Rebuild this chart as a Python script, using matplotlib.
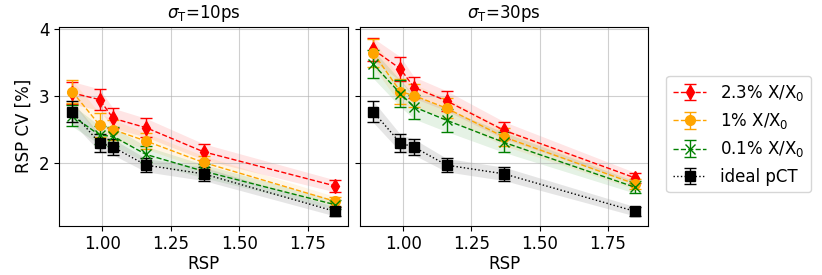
import matplotlib
matplotlib.use('Agg')
import matplotlib.pyplot as plt
import numpy as np

plt.rcParams['font.size'] = 12

RSP = [0.89, 0.99, 1.04, 1.16, 1.37, 1.85]

# sigma_T = 10 ps
CV_10 = {
    '2.3': [3.05, 2.95, 2.67, 2.53, 2.17, 1.66],
    '1': [3.07, 2.57, 2.50, 2.33, 2.01, 1.43],
    '0.1': [2.71, 2.42, 2.40, 2.13, 1.88, 1.38],
}
ERR_10 = {
    '2.3': [0.17, 0.16, 0.15, 0.14, 0.12, 0.09],
    '1': [0.17, 0.18, 0.15, 0.12, 0.10, 0.07],
    '0.1': [0.16, 0.14, 0.14, 0.12, 0.10, 0.07],
}
# sigma_T = 30 ps
CV_30 = {
    '2.3': [3.70, 3.41, 3.13, 2.93, 2.49, 1.78],
    '1': [3.65, 3.07, 3.01, 2.82, 2.39, 1.69],
    '0.1': [3.48, 3.04, 2.84, 2.64, 2.31, 1.64],
}
ERR_30 = {
    '2.3': [0.17, 0.18, 0.16, 0.15, 0.13, 0.08],
    '1': [0.21, 0.19, 0.17, 0.15, 0.13, 0.08],
    '0.1': [0.21, 0.20, 0.18, 0.17, 0.15, 0.09],
}
CV_IDEAL = [2.77, 2.30, 2.24, 1.97, 1.84, 1.28]
ERR_IDEAL = [0.16, 0.13, 0.12, 0.10, 0.10, 0.07]

STYLES = [
    ('2.3', 'red', 'd', '2.3% X/X$_0$'),
    ('1', 'orange', 'o', '1% X/X$_0$'),
    ('0.1', 'green', 'x', '0.1% X/X$_0$'),
]

fig = plt.figure(figsize=(8.22, 2.75), dpi=100)
left = fig.add_axes([0.0718, 0.179, 0.3516, 0.724])
right = fig.add_axes([0.438, 0.179, 0.3504, 0.724], sharey=left)


def draw(ax, cv, err, title):
    x = np.array(RSP)
    for key, color, marker, label in STYLES:
        y, e = np.array(cv[key]), np.array(err[key])
        ax.fill_between(x, y - e, y + e, color=color, alpha=0.1, linewidth=0)
        ax.errorbar(x, y, yerr=e, color=color, marker=marker, linestyle='--',
                    linewidth=1, markersize=7, capsize=4, label=label)
    y, e = np.array(CV_IDEAL), np.array(ERR_IDEAL)
    ax.fill_between(x, y - e, y + e, color='gray', alpha=0.2, linewidth=0)
    ax.errorbar(x, y, yerr=e, color='black', marker='s', linestyle=':',
                linewidth=1, markersize=7, capsize=4, label='ideal pCT')
    ax.set_title(title, fontsize=12)
    ax.set_xlabel('RSP', labelpad=1)
    ax.grid(True, alpha=0.6)
    ax.set_xticks([1.0, 1.25, 1.5, 1.75])


draw(left, CV_10, ERR_10, r'$\sigma_\mathrm{T}$=10ps')
draw(right, CV_30, ERR_30, r'$\sigma_\mathrm{T}$=30ps')
left.set_ylabel('RSP CV [%]')
left.set_ylim(1.064, 4.04)
left.set_yticks([2, 3, 4])
right.tick_params(labelleft=False)
right.legend(loc='center left', bbox_to_anchor=(1.035, 0.46), fontsize=12)

fig.savefig('out.png', dpi=100)
